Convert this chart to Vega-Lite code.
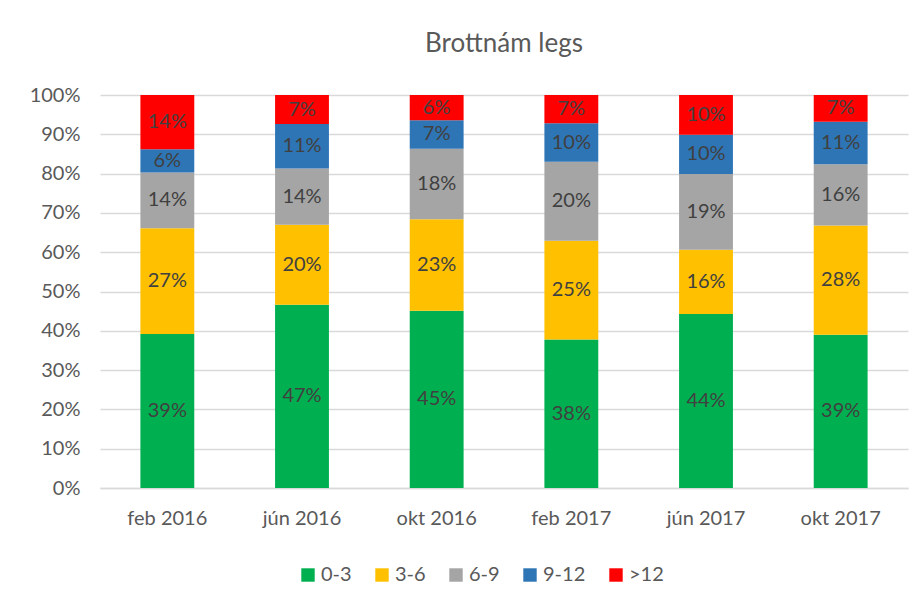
{
  "$schema": "https://vega.github.io/schema/vega-lite/v6.json",
  "autosize": "none",
  "width": 808,
  "height": 393,
  "padding": {"left": 100, "top": 95, "right": 12, "bottom": 120},
  "background": "white",
  "title": {"text": "Brottnám legs", "fontSize": 26, "font": "Lato", "fontWeight": "normal", "color": "#595959", "offset": 28, "anchor": "middle"},
  "config": {"view": {"stroke": null}, "font": "Lato"},
  "data": {"values": [
    {"period": "feb 2016", "group": "0-3", "order": 1, "share": 0.392},
    {"period": "feb 2016", "group": "3-6", "order": 2, "share": 0.269},
    {"period": "feb 2016", "group": "6-9", "order": 3, "share": 0.142},
    {"period": "feb 2016", "group": "9-12", "order": 4, "share": 0.059},
    {"period": "feb 2016", "group": ">12", "order": 5, "share": 0.138},
    {"period": "jún 2016", "group": "0-3", "order": 1, "share": 0.466},
    {"period": "jún 2016", "group": "3-6", "order": 2, "share": 0.204},
    {"period": "jún 2016", "group": "6-9", "order": 3, "share": 0.143},
    {"period": "jún 2016", "group": "9-12", "order": 4, "share": 0.113},
    {"period": "jún 2016", "group": ">12", "order": 5, "share": 0.074},
    {"period": "okt 2016", "group": "0-3", "order": 1, "share": 0.451},
    {"period": "okt 2016", "group": "3-6", "order": 2, "share": 0.233},
    {"period": "okt 2016", "group": "6-9", "order": 3, "share": 0.179},
    {"period": "okt 2016", "group": "9-12", "order": 4, "share": 0.073},
    {"period": "okt 2016", "group": ">12", "order": 5, "share": 0.064},
    {"period": "feb 2017", "group": "0-3", "order": 1, "share": 0.378},
    {"period": "feb 2017", "group": "3-6", "order": 2, "share": 0.251},
    {"period": "feb 2017", "group": "6-9", "order": 3, "share": 0.201},
    {"period": "feb 2017", "group": "9-12", "order": 4, "share": 0.098},
    {"period": "feb 2017", "group": ">12", "order": 5, "share": 0.072},
    {"period": "jún 2017", "group": "0-3", "order": 1, "share": 0.443},
    {"period": "jún 2017", "group": "3-6", "order": 2, "share": 0.163},
    {"period": "jún 2017", "group": "6-9", "order": 3, "share": 0.193},
    {"period": "jún 2017", "group": "9-12", "order": 4, "share": 0.100},
    {"period": "jún 2017", "group": ">12", "order": 5, "share": 0.101},
    {"period": "okt 2017", "group": "0-3", "order": 1, "share": 0.390},
    {"period": "okt 2017", "group": "3-6", "order": 2, "share": 0.278},
    {"period": "okt 2017", "group": "6-9", "order": 3, "share": 0.156},
    {"period": "okt 2017", "group": "9-12", "order": 4, "share": 0.108},
    {"period": "okt 2017", "group": ">12", "order": 5, "share": 0.068}
  ]},
  "transform": [
    {"stack": "share", "groupby": ["period"], "sort": [{"field": "order", "order": "ascending"}], "as": ["y0", "y1"], "offset": "normalize"},
    {"calculate": "(datum.y0 + datum.y1) / 2", "as": "ymid"}
  ],
  "encoding": {
    "x": {
      "field": "period", "type": "nominal",
      "sort": ["feb 2016", "jún 2016", "okt 2016", "feb 2017", "jún 2017", "okt 2017"],
      "scale": {"paddingInner": 0.6, "paddingOuter": 0.3},
      "axis": {"title": null, "labelAngle": 0, "labelFontSize": 20, "labelColor": "#595959", "labelPadding": 20, "ticks": false, "domainColor": "#D9D9D9", "domainWidth": 1.3, "grid": false}
    }
  },
  "layer": [
    {
      "mark": {"type": "bar"},
      "encoding": {
        "y": {"field": "y0", "type": "quantitative", "scale": {"domain": [0, 1], "nice": false},
          "axis": {"title": null, "format": ".0%", "values": [0, 0.1, 0.2, 0.3, 0.4, 0.5, 0.6, 0.7, 0.8, 0.9, 1], "labelOverlap": false, "labelFontSize": 20, "labelColor": "#595959", "labelPadding": 20, "ticks": false, "domain": false, "gridColor": "#D9D9D9", "gridWidth": 1.3}},
        "y2": {"field": "y1"},
        "color": {
          "field": "group", "type": "nominal",
          "scale": {"domain": ["0-3", "3-6", "6-9", "9-12", ">12"], "range": ["#00B050", "#FFC000", "#A5A5A5", "#2E75B6", "#FF0000"]},
          "legend": {"title": null, "orient": "none", "legendX": 198, "legendY": 470, "direction": "horizontal", "symbolType": "square", "symbolSize": 180, "symbolStrokeWidth": 0, "labelFontSize": 20, "labelColor": "#595959", "columnPadding": 20, "labelOffset": 3}
        }
      }
    },
    {
      "mark": {"type": "text", "fontSize": 20, "color": "#404040", "baseline": "middle", "align": "center"},
      "encoding": {
        "y": {"field": "ymid", "type": "quantitative", "scale": {"domain": [0, 1], "nice": false},
          "axis": {"title": null, "format": ".0%", "values": [0, 0.1, 0.2, 0.3, 0.4, 0.5, 0.6, 0.7, 0.8, 0.9, 1], "labelOverlap": false, "labelFontSize": 20, "labelColor": "#595959", "labelPadding": 20, "ticks": false, "domain": false, "gridColor": "#D9D9D9", "gridWidth": 1.3}},
        "text": {"field": "share", "type": "quantitative", "format": ".0%"}
      }
    }
  ]
}
